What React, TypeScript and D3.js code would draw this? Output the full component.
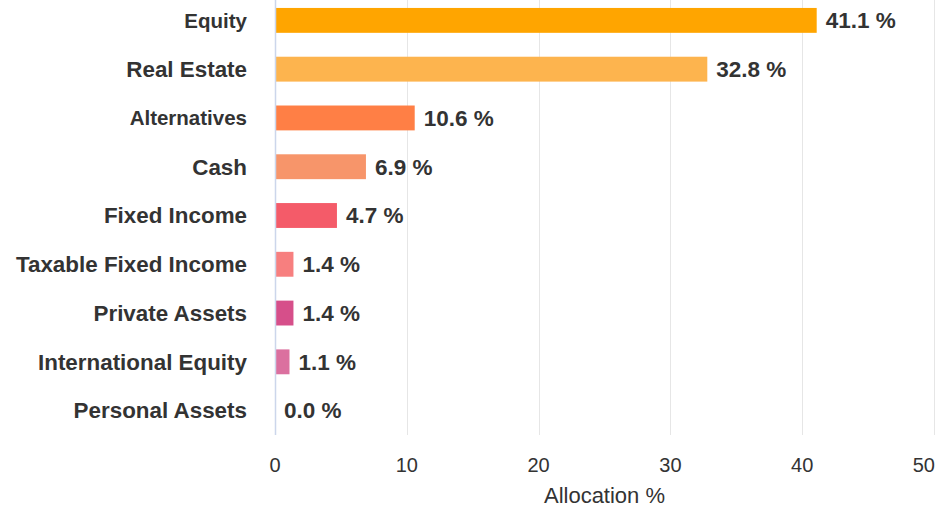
import React, { useEffect, useRef } from "react";
import * as d3 from "d3";

const categories = [
  "Equity",
  "Real Estate",
  "Alternatives",
  "Cash",
  "Fixed Income",
  "Taxable Fixed Income",
  "Private Assets",
  "International Equity",
  "Personal Assets",
];
const allocation = [41.1, 32.8, 10.6, 6.9, 4.7, 1.4, 1.4, 1.1, 0.0];
const barColors = [
  "#ffa500",
  "#fdb44e",
  "#ff7f45",
  "#f7956a",
  "#f45b69",
  "#f77f7f",
  "#d64f8a",
  "#db709f",
  "#e6b3c9",
];
const xTicks = [0, 10, 20, 30, 40, 50];
// labels that the reference draws a little smaller
const smallLabels = ["Equity", "Alternatives"];

const App: React.FC = () => {
  const svgRef = useRef<SVGSVGElement | null>(null);
  const width = 936;
  const height = 506;

  useEffect(() => {
    if (!svgRef.current) return;
    const svg = d3.select(svgRef.current);
    svg.selectAll("*").remove();

    const font = "'Liberation Sans', Arial, Helvetica, sans-serif";
    const left = 275;
    const right = 934;
    const top = -4;
    const bottom = 435;

    const x = d3.scaleLinear().domain([0, 50]).range([left, right]);
    const y = d3
      .scaleBand()
      .domain(categories)
      .range([top, bottom])
      .paddingInner(0.49)
      .paddingOuter(0.245);

    // grid
    svg
      .append("g")
      .selectAll("line")
      .data(xTicks.filter((t) => t > 0))
      .enter()
      .append("line")
      .attr("x1", (d) => Math.round(x(d)) + 0.5)
      .attr("x2", (d) => Math.round(x(d)) + 0.5)
      .attr("y1", top)
      .attr("y2", bottom)
      .attr("stroke", "#e6e6e6")
      .attr("stroke-width", 1);

    // bars
    svg
      .append("g")
      .selectAll("rect")
      .data(allocation)
      .enter()
      .append("rect")
      .attr("x", x(0) + 1)
      .attr("y", (_, i) => y(categories[i])!)
      .attr("width", (d) => Math.max(0, x(d) - x(0) - 1))
      .attr("height", y.bandwidth())
      .attr("fill", (_, i) => barColors[i]);

    // y axis line
    svg
      .append("line")
      .attr("x1", left + 0.5)
      .attr("x2", left + 0.5)
      .attr("y1", top)
      .attr("y2", bottom)
      .attr("stroke", "#ccd6eb")
      .attr("stroke-width", 1.5);

    // value labels
    svg
      .append("g")
      .selectAll("text")
      .data(allocation)
      .enter()
      .append("text")
      .attr("x", (d) => x(d) + 9)
      .attr("y", (_, i) => y(categories[i])! + y.bandwidth() / 2)
      .attr("dy", "0.35em")
      .attr("font-family", font)
      .attr("font-size", 22.5)
      .attr("font-weight", "bold")
      .attr("fill", "#333333")
      .text((d) => `${d.toFixed(1)} %`);

    // category labels
    svg
      .append("g")
      .selectAll("text")
      .data(categories)
      .enter()
      .append("text")
      .attr("x", 247)
      .attr("y", (d) => y(d)! + y.bandwidth() / 2)
      .attr("dy", "0.35em")
      .attr("text-anchor", "end")
      .attr("font-family", font)
      .attr("font-size", (d) => (smallLabels.includes(d) ? 20.5 : 22.4))
      .attr("font-weight", "bold")
      .attr("fill", "#333333")
      .text((d) => d);

    // x tick labels
    svg
      .append("g")
      .selectAll("text")
      .data(xTicks)
      .enter()
      .append("text")
      .attr("x", (d, i) => (i === xTicks.length - 1 ? 935 : x(d)))
      .attr("y", 472)
      .attr("text-anchor", (_, i) => (i === xTicks.length - 1 ? "end" : "middle"))
      .attr("font-family", font)
      .attr("font-size", 20)
      .attr("fill", "#333333")
      .text((d) => d);

    // axis title
    svg
      .append("text")
      .attr("x", (left + right) / 2)
      .attr("y", 503)
      .attr("text-anchor", "middle")
      .attr("font-family", font)
      .attr("font-size", 22)
      .attr("fill", "#333333")
      .text("Allocation %");
  }, []);

  return (
    <svg
      ref={svgRef}
      width={width}
      height={height}
      style={{ position: "absolute", left: 0, top: 0, background: "#fff" }}
    />
  );
};

export default App;
